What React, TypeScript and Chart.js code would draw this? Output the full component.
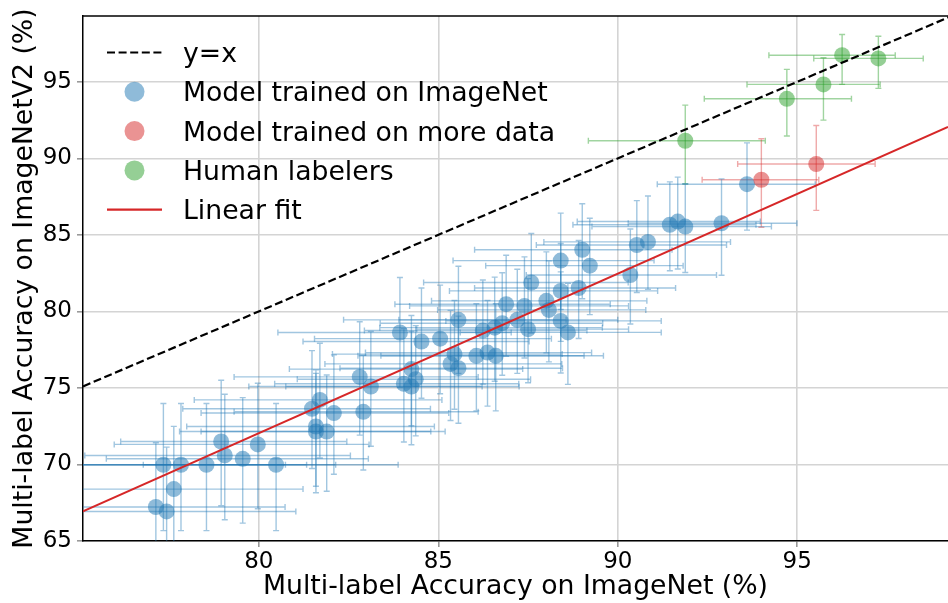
import React, { useEffect, useRef } from "react";
import { Chart, registerables } from "chart.js";

Chart.register(...registerables);

const FONT = "'DejaVu Sans', sans-serif";

// ---- data ----
const xTicks = [80, 85, 90, 95];
const yTicks = [65, 70, 75, 80, 85, 90, 95];

const identityX = [75.1, 99.3];
const identityY = [75.1, 99.3];

const fitX = [75.1, 99.2];
const fitY = [66.93, 92.05];

const blueX = [77.13, 77.43, 77.63, 77.34, 77.83, 78.54, 78.95, 79.05, 79.55, 79.97, 80.48, 81.48, 81.7, 82.09, 81.59, 81.59, 81.89, 82.91, 83.12, 82.81, 83.93, 84.53, 85.05, 85.56, 84.04, 84.25, 84.25, 84.37, 85.45, 85.34, 85.56, 86.06, 86.37, 86.6, 86.24, 86.57, 86.78, 86.89, 87.2, 87.4, 87.5, 87.59, 88.01, 88.08, 88.41, 88.41, 88.41, 88.61, 88.91, 89.01, 89.22, 90.35, 90.53, 90.84, 91.45, 91.67, 91.88, 92.89, 93.6];
const blueY = [67.22, 66.93, 68.39, 69.98, 69.98, 69.98, 71.5, 70.59, 70.37, 71.31, 69.98, 73.64, 74.22, 73.36, 72.48, 72.15, 72.15, 73.44, 75.09, 75.72, 78.62, 78.03, 78.22, 79.45, 75.27, 76.23, 75.09, 75.57, 77.21, 76.57, 76.29, 77.1, 77.31, 77.1, 78.75, 78.94, 79.23, 80.47, 79.45, 80.36, 78.84, 81.89, 80.69, 80.1, 83.32, 81.34, 79.38, 78.63, 81.53, 84.03, 82.99, 82.38, 84.34, 84.54, 85.66, 85.87, 85.54, 85.76, 88.31];
const blueXLo = [3.8, 3.9, 3.7, 3.9, 3.8, 3.7, 2.8, 3.9, 3.8, 4.0, 3.7, 3.6, 3.5, 3.7, 3.6, 3.8, 3.5, 3.6, 3.4, 3.5, 3.4, 3.3, 3.5, 3.2, 3.6, 3.4, 3.5, 3.3, 3.4, 3.5, 3.3, 3.3, 3.4, 3.2, 3.3, 3.2, 3.4, 3.1, 3.3, 3.2, 3.1, 3.0, 3.2, 3.1, 3.0, 3.1, 3.2, 3.0, 2.9, 3.0, 2.9, 2.9, 2.8, 2.9, 2.7, 2.8, 2.6, 2.6, 2.5];
const blueXHi = [3.6, 3.6, 3.6, 3.4, 3.5, 3.6, 3.5, 3.5, 3.5, 3.1, 3.4, 3.3, 3.4, 3.2, 3.3, 3.2, 3.3, 3.2, 3.1, 3.3, 3.1, 3.0, 3.1, 3.0, 3.2, 3.1, 3.0, 3.2, 3.0, 3.1, 2.9, 3.0, 2.9, 3.0, 2.9, 3.0, 2.8, 2.9, 2.8, 2.9, 2.8, 2.7, 2.8, 2.7, 2.6, 2.7, 2.8, 2.6, 2.7, 2.5, 2.6, 2.4, 2.5, 2.3, 2.4, 2.3, 2.4, 2.1, 1.9];
const blueYLo = [4.5, 4.4, 4.3, 4.3, 4.3, 4.3, 4.2, 4.2, 4.2, 4.2, 4.3, 3.9, 3.8, 4.0, 3.9, 4.0, 3.9, 3.8, 3.9, 3.8, 3.6, 3.7, 3.6, 3.5, 3.8, 3.7, 3.8, 3.7, 3.6, 3.7, 3.6, 3.6, 3.5, 3.6, 3.5, 3.5, 3.4, 3.4, 3.5, 3.4, 3.5, 3.3, 3.4, 3.4, 3.2, 3.3, 3.4, 3.4, 3.3, 3.2, 3.2, 3.2, 3.1, 3.1, 3.0, 3.1, 3.0, 3.4, 3.0];
const blueYHi = [4.2, 4.2, 4.1, 4.0, 4.0, 4.0, 4.0, 4.0, 4.0, 4.0, 4.0, 3.8, 3.7, 3.8, 3.7, 3.8, 3.7, 3.7, 3.6, 3.6, 3.6, 3.5, 3.5, 3.5, 3.6, 3.5, 3.6, 3.5, 3.5, 3.5, 3.4, 3.4, 3.4, 3.4, 3.3, 3.3, 3.3, 3.2, 3.3, 3.2, 3.3, 3.2, 3.2, 3.2, 3.1, 3.1, 3.2, 3.2, 3.1, 3.0, 3.1, 3.0, 2.9, 3.0, 2.8, 2.9, 2.8, 2.9, 2.7];

const redX = [94.0, 95.53];
const redY = [88.6, 89.63];
const redXLo = [1.65, 2.19];
const redXHi = [1.6, 1.64];
const redYLo = [3.1, 3.03];
const redYHi = [2.68, 2.52];

const greenX = [96.25, 97.26, 95.73, 94.71, 91.88];
const greenY = [96.74, 96.53, 94.83, 93.89, 91.15];
const greenXLo = [2.04, 1.8, 2.13, 2.3, 2.7];
const greenXHi = [1.48, 1.25, 1.58, 1.8, 2.23];
const greenYLo = [1.91, 1.96, 2.33, 2.43, 2.83];
const greenYHi = [1.35, 1.45, 1.74, 1.92, 2.33];

const legendLabels = [
  "y=x",
  "Model trained on ImageNet",
  "Model trained on more data",
  "Human labelers",
  "Linear fit",
];

function pts(xs: number[], ys: number[], xl: number[], xh: number[], yl: number[], yh: number[]) {
  return xs.map((x, i) => ({ x, y: ys[i], xl: xl[i], xh: xh[i], yl: yl[i], yh: yh[i] }));
}

const errorBarPlugin = {
  id: "errbars",
  beforeDatasetsDraw(chart: any) {
    const { ctx, chartArea: a, scales } = chart;
    const sx = scales.x;
    const sy = scales.y;
    ctx.save();
    ctx.beginPath();
    ctx.rect(a.left, a.top, a.right - a.left, a.bottom - a.top);
    ctx.clip();
    ctx.lineWidth = 1.4;
    const c = 3;
    chart.data.datasets.forEach((ds: any) => {
      if (!ds.errColor) return;
      ctx.strokeStyle = ds.errColor;
      ds.data.forEach((p: any) => {
        const px = sx.getPixelForValue(p.x);
        const py = sy.getPixelForValue(p.y);
        const x0 = sx.getPixelForValue(p.x - p.xl);
        const x1 = sx.getPixelForValue(p.x + p.xh);
        const y0 = sy.getPixelForValue(p.y - p.yl);
        const y1 = sy.getPixelForValue(p.y + p.yh);
        ctx.beginPath();
        ctx.moveTo(x0, py); ctx.lineTo(x1, py);
        ctx.moveTo(x0, py - c); ctx.lineTo(x0, py + c);
        ctx.moveTo(x1, py - c); ctx.lineTo(x1, py + c);
        ctx.stroke();
        ctx.beginPath();
        ctx.moveTo(px, y0); ctx.lineTo(px, y1);
        ctx.moveTo(px - c, y0); ctx.lineTo(px + c, y0);
        ctx.moveTo(px - c, y1); ctx.lineTo(px + c, y1);
        ctx.stroke();
      });
    });
    ctx.restore();
  },
};

const spinePlugin = {
  id: "topspine",
  afterDatasetsDraw(chart: any) {
    const { ctx, chartArea: a } = chart;
    ctx.save();
    ctx.strokeStyle = "#000";
    ctx.lineWidth = 1.5;
    ctx.beginPath();
    ctx.moveTo(a.left, a.top);
    ctx.lineTo(a.right, a.top);
    ctx.stroke();
    ctx.restore();
  },
};

const legendPlugin = {
  id: "mplLegend",
  afterDraw(chart: any) {
    const { ctx } = chart;
    const kinds = ["dash", "dot", "dot", "dot", "line"];
    const colors = ["#000", "rgba(31,119,180,0.5)", "rgba(214,39,40,0.5)", "rgba(44,160,44,0.5)", "#d62728"];
    ctx.save();
    ctx.font = `26.7px ${FONT}`;
    ctx.textBaseline = "alphabetic";
    ctx.textAlign = "left";
    legendLabels.forEach((lab, i) => {
      const base = 62 + i * 39.3;
      const hy = base - 9.5;
      if (kinds[i] === "dot") {
        ctx.fillStyle = colors[i];
        ctx.beginPath();
        ctx.arc(134.5, hy, 10, 0, Math.PI * 2);
        ctx.fill();
      } else {
        ctx.strokeStyle = colors[i];
        ctx.lineWidth = 2.2;
        ctx.setLineDash(kinds[i] === "dash" ? [8, 3.6] : []);
        ctx.beginPath();
        ctx.moveTo(107, hy);
        ctx.lineTo(162, hy);
        ctx.stroke();
        ctx.setLineDash([]);
      }
      ctx.fillStyle = "#000";
      ctx.fillText(lab, 183, base);
    });
    ctx.restore();
  },
};

export default function App() {
  const ref = useRef<HTMLCanvasElement>(null);
  useEffect(() => {
    document.body.style.margin = "0";
    const canvas = ref.current;
    if (!canvas) return;
    const chart = new Chart(canvas, {
      type: "scatter",
      data: {
        datasets: [
          {
            type: "line",
            label: legendLabels[0],
            data: identityX.map((x, i) => ({ x, y: identityY[i] })),
            borderColor: "#000",
            borderWidth: 2.2,
            borderDash: [8, 3.6],
            pointRadius: 0,
            fill: false,
          } as any,
          {
            type: "line",
            label: legendLabels[4],
            data: fitX.map((x, i) => ({ x, y: fitY[i] })),
            borderColor: "#d62728",
            borderWidth: 2,
            pointRadius: 0,
            fill: false,
          } as any,
          {
            label: legendLabels[3],
            data: pts(greenX, greenY, greenXLo, greenXHi, greenYLo, greenYHi),
            backgroundColor: "rgba(44,160,44,0.5)",
            borderWidth: 0,
            pointRadius: 8,
            errColor: "rgba(44,160,44,0.45)",
          } as any,
          {
            label: legendLabels[2],
            data: pts(redX, redY, redXLo, redXHi, redYLo, redYHi),
            backgroundColor: "rgba(214,39,40,0.5)",
            borderWidth: 0,
            pointRadius: 8,
            errColor: "rgba(214,39,40,0.4)",
          } as any,
          {
            label: legendLabels[1],
            data: pts(blueX, blueY, blueXLo, blueXHi, blueYLo, blueYHi),
            backgroundColor: "rgba(31,119,180,0.5)",
            borderWidth: 0,
            pointRadius: 8,
            errColor: "rgba(31,119,180,0.42)",
          } as any,
        ],
      },
      options: {
        responsive: false,
        animation: false,
        events: [],
        layout: { autoPadding: false, padding: { top: 16, right: 0, left: 0, bottom: 0 } },
        plugins: { legend: { display: false }, tooltip: { enabled: false } },
        scales: {
          x: {
            type: "linear",
            min: 75.1,
            max: 99.2,
            afterBuildTicks: (s: any) => { s.ticks = xTicks.map((v) => ({ value: v })); },
            afterFit: (s: any) => { s.height = 62; s.paddingLeft = 0; s.paddingRight = 0; },
            ticks: { font: { family: FONT, size: 23 }, color: "#000", padding: 1, maxRotation: 0 },
            grid: { color: "#d4d4d4", lineWidth: 1.6, tickLength: 6, tickColor: "#999" },
            border: { display: true, color: "#000", width: 1.5 },
            title: {
              display: true,
              text: "Multi-label Accuracy on ImageNet (%)",
              font: { family: FONT, size: 26.7 },
              color: "#000",
              padding: { top: 0, bottom: 0 },
            },
          },
          y: {
            type: "linear",
            min: 65,
            max: 99.3,
            afterBuildTicks: (s: any) => { s.ticks = yTicks.map((v) => ({ value: v })); },
            afterFit: (s: any) => { s.width = 83; s.paddingTop = 0; s.paddingBottom = 0; },
            ticks: { font: { family: FONT, size: 23 }, color: "#000", padding: 5 },
            grid: { color: "#d4d4d4", lineWidth: 1.6, tickLength: 6, tickColor: "#999" },
            border: { display: true, color: "#000", width: 1.5 },
            title: {
              display: true,
              text: "Multi-label Accuracy on ImageNetV2 (%)",
              font: { family: FONT, size: 26.7 },
              color: "#000",
              padding: { top: 9, bottom: 0 },
            },
          },
        },
      },
      plugins: [errorBarPlugin, spinePlugin, legendPlugin],
    });
    return () => chart.destroy();
  }, []);
  return (
    <div style={{ position: "absolute", left: 0, top: 0, width: 948, height: 603 }}>
      <canvas ref={ref} width={948} height={603} style={{ display: "block" }} />
    </div>
  );
}
